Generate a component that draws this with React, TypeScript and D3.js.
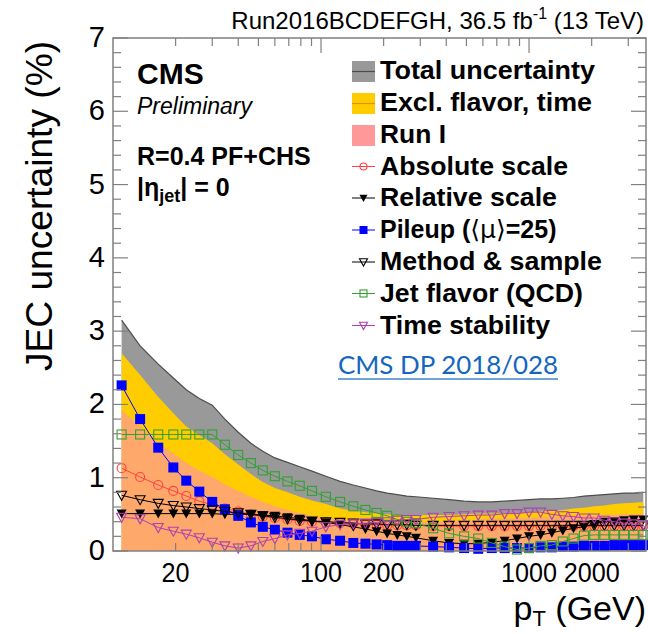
import React from 'react';
import * as d3 from 'd3';

// ---------- data ----------
const ptValues = [11, 13.5, 16.5, 19.5, 22.5, 26, 30, 34.5, 40, 46, 52.5, 60, 69, 79, 90.5, 105.5, 123.5, 143, 163.5, 185, 208, 232.5, 258.5, 286, 346, 412.5, 487.5, 570, 662, 763.5, 875.5, 999.5, 1136.5, 1287.5, 1453.5, 1636, 1837, 2058, 2302, 2570, 2864, 3188, 3543.5];

const totalUnc = [3.15, 2.80, 2.55, 2.36, 2.20, 2.08, 1.99, 1.80, 1.62, 1.47, 1.36, 1.27, 1.21, 1.15, 1.09, 1.02, 0.95, 0.90, 0.86, 0.82, 0.79, 0.77, 0.75, 0.74, 0.72, 0.70, 0.68, 0.67, 0.67, 0.68, 0.69, 0.70, 0.71, 0.71, 0.72, 0.73, 0.75, 0.76, 0.77, 0.78, 0.79, 0.79, 0.80];
const exclFlavorTime = [2.70, 2.40, 2.10, 1.88, 1.70, 1.58, 1.47, 1.32, 1.18, 1.05, 0.94, 0.86, 0.80, 0.74, 0.69, 0.64, 0.58, 0.55, 0.53, 0.51, 0.50, 0.49, 0.49, 0.49, 0.49, 0.49, 0.50, 0.51, 0.51, 0.52, 0.52, 0.53, 0.54, 0.55, 0.56, 0.58, 0.59, 0.61, 0.62, 0.64, 0.65, 0.66, 0.67];
const runI = [1.92, 1.70, 1.47, 1.33, 1.20, 1.10, 1.01, 0.91, 0.82, 0.74, 0.67, 0.61, 0.56, 0.52, 0.48, 0.45, 0.43, 0.42, 0.41, 0.41, 0.40, 0.40, 0.40, 0.40, 0.40, 0.41, 0.42, 0.43, 0.44, 0.44, 0.45, 0.45, 0.46, 0.46, 0.47, 0.47, 0.48, 0.48, 0.49, 0.49, 0.50, 0.50, 0.51];
const absoluteScale = [1.13, 1.01, 0.90, 0.82, 0.75, 0.68, 0.63, 0.58, 0.54, 0.50, 0.47, 0.45, 0.43, 0.41, 0.40, 0.39, 0.38, 0.37, 0.36, 0.36, 0.35, 0.35, 0.35, 0.35, 0.34, 0.34, 0.34, 0.34, 0.34, 0.34, 0.34, 0.34, 0.34, 0.34, 0.34, 0.34, 0.34, 0.34, 0.34, 0.34, 0.34, 0.34, 0.34];
const relativeScale = [0.51, 0.51, 0.51, 0.51, 0.51, 0.51, 0.51, 0.50, 0.50, 0.50, 0.49, 0.48, 0.46, 0.44, 0.41, 0.39, 0.36, 0.33, 0.30, 0.27, 0.24, 0.22, 0.20, 0.18, 0.14, 0.11, 0.10, 0.10, 0.12, 0.14, 0.17, 0.20, 0.22, 0.25, 0.28, 0.31, 0.33, 0.37, 0.40, 0.41, 0.42, 0.43, 0.43];
const pileup = [2.26, 1.80, 1.41, 1.14, 0.96, 0.81, 0.67, 0.57, 0.48, 0.39, 0.33, 0.29, 0.25, 0.22, 0.20, 0.16, 0.14, 0.11, 0.10, 0.09, 0.08, 0.07, 0.07, 0.07, 0.06, 0.05, 0.04, 0.03, 0.04, 0.04, 0.04, 0.04, 0.05, 0.05, 0.06, 0.06, 0.07, 0.07, 0.07, 0.08, 0.08, 0.08, 0.08];
const methodSample = [0.76, 0.70, 0.65, 0.62, 0.60, 0.58, 0.56, 0.54, 0.52, 0.50, 0.48, 0.46, 0.44, 0.42, 0.41, 0.40, 0.39, 0.38, 0.37, 0.37, 0.36, 0.36, 0.36, 0.35, 0.35, 0.35, 0.35, 0.35, 0.35, 0.35, 0.35, 0.35, 0.35, 0.35, 0.35, 0.35, 0.35, 0.35, 0.35, 0.35, 0.35, 0.35, 0.35];
const jetFlavor = [1.59, 1.59, 1.59, 1.59, 1.59, 1.59, 1.59, 1.45, 1.31, 1.20, 1.10, 1.02, 0.95, 0.89, 0.82, 0.74, 0.67, 0.61, 0.56, 0.52, 0.48, 0.43, 0.40, 0.38, 0.31, 0.24, 0.20, 0.17, 0.11, 0.06, 0.02, 0.04, 0.07, 0.08, 0.13, 0.17, 0.21, 0.22, 0.22, 0.22, 0.22, 0.22, 0.22];
const timeStability = [0.46, 0.44, 0.32, 0.27, 0.23, 0.18, 0.12, 0.07, 0.04, 0.07, 0.13, 0.17, 0.22, 0.24, 0.27, 0.33, 0.36, 0.37, 0.38, 0.39, 0.40, 0.42, 0.43, 0.43, 0.46, 0.47, 0.48, 0.49, 0.49, 0.51, 0.51, 0.53, 0.53, 0.50, 0.48, 0.47, 0.45, 0.45, 0.42, 0.40, 0.38, 0.37, 0.36];

const xTickLabels = [20, 100, 200, 1000, 2000];
const yTickLabels = [0, 1, 2, 3, 4, 5, 6, 7];

const legendLabels = ['Total uncertainty', 'Excl. flavor, time', 'Run I', 'Absolute scale', 'Relative scale', 'Pileup', 'Method & sample', 'Jet flavor (QCD)', 'Time stability'];

// ---------- layout ----------
const W = 648;
const H = 634;
const FONT = "'Liberation Sans', Arial, Helvetica, sans-serif";

const x = d3.scaleLog().domain([10, 3650]).range([113, 646]);
const y = d3.scaleLinear().domain([0, 7]).range([551, 38]);

type Shape = 'circleOpen' | 'triFilled' | 'squareFilled' | 'triOpen' | 'squareOpen';

const series: { values: number[]; color: string; shape: Shape }[] = [
  { values: absoluteScale, color: '#ff4040', shape: 'circleOpen' },
  { values: relativeScale, color: '#000000', shape: 'triFilled' },
  { values: pileup, color: '#0000ff', shape: 'squareFilled' },
  { values: methodSample, color: '#000000', shape: 'triOpen' },
  { values: jetFlavor, color: '#33a033', shape: 'squareOpen' },
  { values: timeStability, color: '#b040b0', shape: 'triOpen' },
];

function Marker({ cx, cy, shape, color, s = 10 }: { cx: number; cy: number; shape: Shape; color: string; s?: number }) {
  const h = s / 2;
  switch (shape) {
    case 'circleOpen':
      return <circle cx={cx} cy={cy} r={h - 0.5} fill="none" stroke={color} strokeWidth={1.1} />;
    case 'squareFilled':
      return <rect x={cx - h} y={cy - h} width={s} height={s} fill={color} />;
    case 'squareOpen':
      return <rect x={cx - h + 0.5} y={cy - h + 0.5} width={s - 1} height={s - 1} fill="none" stroke={color} strokeWidth={1.1} />;
    case 'triFilled':
    case 'triOpen': {
      const pts = `${cx - h},${cy - h * 0.8} ${cx + h},${cy - h * 0.8} ${cx},${cy + h}`;
      return shape === 'triFilled'
        ? <polygon points={pts} fill={color} />
        : <polygon points={pts} fill="none" stroke={color} strokeWidth={1.1} />;
    }
  }
  return null;
}

export default function App() {
  const areaGen = d3.area<number>()
    .x((_, i) => x(ptValues[i]))
    .y0(y(0))
    .y1((d) => y(d));
  const lineGen = d3.line<number>()
    .x((_, i) => x(ptValues[i]))
    .y((d) => y(d));

  const [x0, x1] = x.range();
  const [yb, yt] = y.range();

  // log ticks
  const xMinor: number[] = [];
  const xMajor: number[] = [];
  for (let e = 1; e <= 3; e++) {
    for (let k = 1; k <= 9; k++) {
      const v = k * Math.pow(10, e);
      if (v <= 10 || v > 3650) continue;
      if (k === 1) xMajor.push(v); else xMinor.push(v);
    }
  }
  const yMinor = d3.range(0, 7.001, 0.2).filter((v) => Math.abs(v - Math.round(v)) > 0.01);

  const frame = '#808080';
  const legendX = 352;
  const legendBase = [79, 111, 143, 174.5, 206, 238, 270, 301.5, 333.5];
  const legendWidths = [215, 212, 66, 188, 177, 183, 222, 203, 170];

  return (
    <svg width={W} height={H} style={{ position: 'absolute', left: 0, top: 0, background: '#fff' }} fontFamily={FONT}>
      <rect x={0} y={0} width={W} height={H} fill="#fff" />
      {/* bands */}
      <path d={areaGen(totalUnc) || ''} fill="#999999" />
      <path d={lineGen(totalUnc) || ''} fill="none" stroke="#4d4d4d" strokeWidth={1.2} />
      <path d={areaGen(exclFlavorTime) || ''} fill="#ffcc00" />
      <path d={areaGen(runI) || ''} fill="#ff9999" fillOpacity={0.7} />

      {/* series */}
      {series.map((s, si) => (
        <g key={si}>
          <path d={lineGen(s.values) || ''} fill="none" stroke={s.color} strokeWidth={1} />
          {s.values.map((v, i) => (
            <Marker key={i} cx={x(ptValues[i])} cy={y(v)} shape={s.shape} color={s.color} />
          ))}
        </g>
      ))}

      {/* frame & ticks */}
      <rect x={x0} y={yt} width={x1 - x0} height={yb - yt} fill="none" stroke={frame} strokeWidth={1.5} />
      {xMinor.map((v) => (
        <g key={'xm' + v} stroke={frame} strokeWidth={1.2}>
          <line x1={x(v)} x2={x(v)} y1={yb} y2={yb - 8} />
          <line x1={x(v)} x2={x(v)} y1={yt} y2={yt + 8} />
        </g>
      ))}
      {xMajor.map((v) => (
        <g key={'xM' + v} stroke={frame} strokeWidth={1.2}>
          <line x1={x(v)} x2={x(v)} y1={yb} y2={yb - 15} />
          <line x1={x(v)} x2={x(v)} y1={yt} y2={yt + 15} />
        </g>
      ))}
      {yMinor.map((v) => (
        <g key={'ym' + v} stroke={frame} strokeWidth={1.2}>
          <line x1={x0} x2={x0 + 8} y1={y(v)} y2={y(v)} />
          <line x1={x1} x2={x1 - 8} y1={y(v)} y2={y(v)} />
        </g>
      ))}
      {yTickLabels.map((v) => (
        <g key={'yM' + v} stroke={frame} strokeWidth={1.2}>
          <line x1={x0} x2={x0 + 15} y1={y(v)} y2={y(v)} />
          <line x1={x1} x2={x1 - 15} y1={y(v)} y2={y(v)} />
        </g>
      ))}

      {/* tick labels */}
      {yTickLabels.map((v) => (
        <text key={'yl' + v} x={105} y={y(v) + 9} textAnchor="end" fontSize={29} fill="#000">{v}</text>
      ))}
      {xTickLabels.map((v) => (
        <text key={'xl' + v} x={x(v)} y={582} textAnchor="middle" fontSize={27} fill="#000"
          textLength={String(v).length * 14} lengthAdjust="spacingAndGlyphs">{v}</text>
      ))}

      {/* axis titles */}
      <text transform="translate(52,371) rotate(-90)" textAnchor="start" fontSize={36} fill="#000" textLength={330} lengthAdjust="spacingAndGlyphs">JEC uncertainty (%)</text>
      <text x={646} y={620} textAnchor="end" fontSize={34} fill="#000">
        p<tspan fontSize={22} dy={6}>T</tspan><tspan dy={-6}> (GeV)</tspan>
      </text>

      {/* top label */}
      <text x={644} y={29} textAnchor="end" fontSize={24} fill="#000">
        Run2016BCDEFGH, 36.5 fb<tspan fontSize={16} dy={-10}>-1</tspan><tspan dy={10}> (13 TeV)</tspan>
      </text>

      {/* CMS labels */}
      <text x={137} y={84} fontSize={30} fontWeight="bold" fill="#000">CMS</text>
      <text x={137} y={114} fontSize={23} fontStyle="italic" fill="#000">Preliminary</text>
      <text x={137} y={165} fontSize={25} fontWeight="bold" fill="#000">R=0.4 PF+CHS</text>
      <text x={137} y={196} fontSize={25} fontWeight="bold" fill="#000">
        |η<tspan fontSize={18} dy={6}>jet</tspan><tspan dy={-6}>| = 0</tspan>
      </text>

      {/* legend */}
      <g>
        <rect x={legendX} y={legendBase[0] - 18} width={23} height={21} fill="#999999" />
        <line x1={legendX} x2={legendX + 23} y1={legendBase[0] - 7.5} y2={legendBase[0] - 7.5} stroke="#4d4d4d" strokeWidth={1.2} />
        <rect x={legendX} y={legendBase[1] - 18} width={23} height={21} fill="#ffcc00" />
        <line x1={legendX} x2={legendX + 23} y1={legendBase[1] - 7.5} y2={legendBase[1] - 7.5} stroke="#e09000" strokeWidth={1.2} />
        <rect x={legendX} y={legendBase[2] - 18} width={23} height={21} fill="#ff9999" />
        {series.map((s, i) => {
          const cy = legendBase[i + 3] - 8;
          return (
            <g key={'lg' + i}>
              <line x1={legendX} x2={legendX + 23} y1={cy} y2={cy} stroke={s.color} strokeWidth={1} />
              <Marker cx={legendX + 11.5} cy={cy} shape={s.shape} color={s.color} s={8} />
            </g>
          );
        })}
        {legendLabels.map((t, i) => (
          i === 5 ? (
            <text key={'lt' + i} x={380} y={legendBase[i]} fontSize={25} fontWeight="bold" fill="#000">
              Pileup (<tspan fontFamily="'DejaVu Sans', sans-serif" fontWeight="normal">{'\u27E8\u03BC\u27E9'}</tspan>=25)
            </text>
          ) : (
            <text key={'lt' + i} x={380} y={legendBase[i]} fontSize={25} fontWeight="bold" fill="#000" textLength={legendWidths[i]} lengthAdjust="spacingAndGlyphs">{t}</text>
          )
        ))}
      </g>

      {/* reference link */}
      <text x={338} y={374} fontSize={25} fill="#1466c0" fontFamily="Lato, 'Open Sans', sans-serif" textLength={220} lengthAdjust="spacingAndGlyphs">CMS DP 2018/028</text>
      <line x1={338} x2={558} y1={379} y2={379} stroke="#3f86cf" strokeWidth={1.5} />
    </svg>
  );
}
